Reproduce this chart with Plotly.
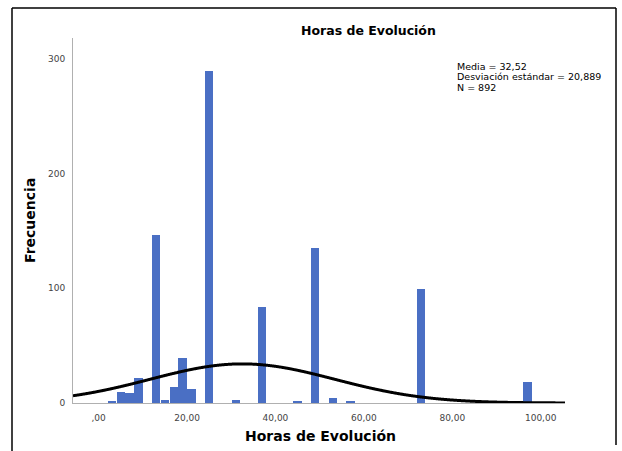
import numpy as np
import plotly.graph_objects as go

# Histogram of hours of evolution (bins of width 2, labelled by bin centre)
bin_centres = [3, 5, 7, 9, 13, 15, 17, 19, 21, 25, 31, 37, 45, 49, 53, 57, 73, 97]
frequencies = [1, 10, 9, 22, 146, 3, 14, 39, 12, 289, 3, 84, 2, 135, 4, 2, 99, 18]
bin_width = 2.0

# Summary statistics shown on the chart
media = 32.52
desviacion = 20.889
n_total = 892

x_ticks = [0, 20, 40, 60, 80, 100]
x_tick_text = [",00", "20,00", "40,00", "60,00", "80,00", "100,00"]
y_ticks = [0, 100, 200, 300]

x_range = [-5.8, 105.5]
y_range = [0, 318]

# Normal curve scaled to the histogram (N * bin width * density)
xc = np.linspace(x_range[0], x_range[1], 600)
yc = n_total * bin_width / (desviacion * np.sqrt(2 * np.pi)) * np.exp(-0.5 * ((xc - media) / desviacion) ** 2)

FONT = "DejaVu Sans"
BAR_COLOR = "#4a6fc4"

fig = go.Figure()
fig.add_trace(go.Bar(
    x=bin_centres, y=frequencies, width=bin_width * 0.94,
    marker=dict(color=BAR_COLOR, line=dict(width=0)),
    hoverinfo="x+y",
))
fig.add_trace(go.Scatter(
    x=xc, y=yc, mode="lines",
    line=dict(color="black", width=3, simplify=False, shape="spline"), hoverinfo="skip",
))

W, H = 622, 451
L, R, T, B = 73, 57, 38, 48
pw, ph = W - L - R, H - T - B


def px(x):
    return (x - L) / pw


def py(y):
    return (H - B - y) / ph


annotations = [
    dict(text="<b>Horas de Evolución</b>", x=px(368), y=py(31), xref="paper", yref="paper",
         showarrow=False, font=dict(family=FONT, size=12.5, color="black"), xanchor="center", yanchor="middle"),
    dict(text="<b>Horas de Evolución</b>", x=px(320), y=py(436), xref="paper", yref="paper",
         showarrow=False, font=dict(family=FONT, size=14, color="black"), xanchor="center", yanchor="middle"),
    dict(text="<b>Frecuencia</b>", x=px(30), y=py(221), xref="paper", yref="paper", textangle=-90,
         showarrow=False, font=dict(family=FONT, size=14, color="black"), xanchor="center", yanchor="middle"),
]
stats_lines = [
    "Media = 32,52",
    "Desviación estándar = 20,889",
    "N = 892",
]
for i, line in enumerate(stats_lines):
    annotations.append(dict(
        text=line, x=px(455), y=py(66 + 10.5 * i), xref="paper", yref="paper",
        showarrow=False, font=dict(family=FONT, size=9.5, color="black"),
        xanchor="left", yanchor="middle", height=10, valign="middle",
    ))

# Outer frame: left, top and right edges
frame = [
    (12, 8, 12, 451),
    (12, 8, 616, 8),
    (616, 8, 616, 445),
]
shapes = [dict(type="line", xref="paper", yref="paper",
               x0=px(a), y0=py(b), x1=px(c), y1=py(d),
               line=dict(color="black", width=1.5)) for a, b, c, d in frame]

fig.update_layout(
    width=W, height=H,
    margin=dict(l=L, r=R, t=T, b=B),
    paper_bgcolor="white", plot_bgcolor="white",
    showlegend=False, bargap=0,
    annotations=annotations,
    shapes=shapes,
    font=dict(family=FONT, size=9, color="#444"),
)
fig.update_xaxes(
    range=x_range, tickvals=x_ticks, ticktext=x_tick_text,
    showgrid=False, zeroline=False, showline=True, linecolor="#b0b0b0", linewidth=1,
    ticks="", ticklabelstandoff=6, tickfont=dict(family=FONT, size=9, color="#444"),
)
fig.update_yaxes(
    range=y_range, tickvals=y_ticks,
    showgrid=False, zeroline=False, showline=True, linecolor="#b0b0b0", linewidth=1,
    ticks="", ticklabelstandoff=5, tickfont=dict(family=FONT, size=9, color="#444"),
)

fig.write_html("out.html")
